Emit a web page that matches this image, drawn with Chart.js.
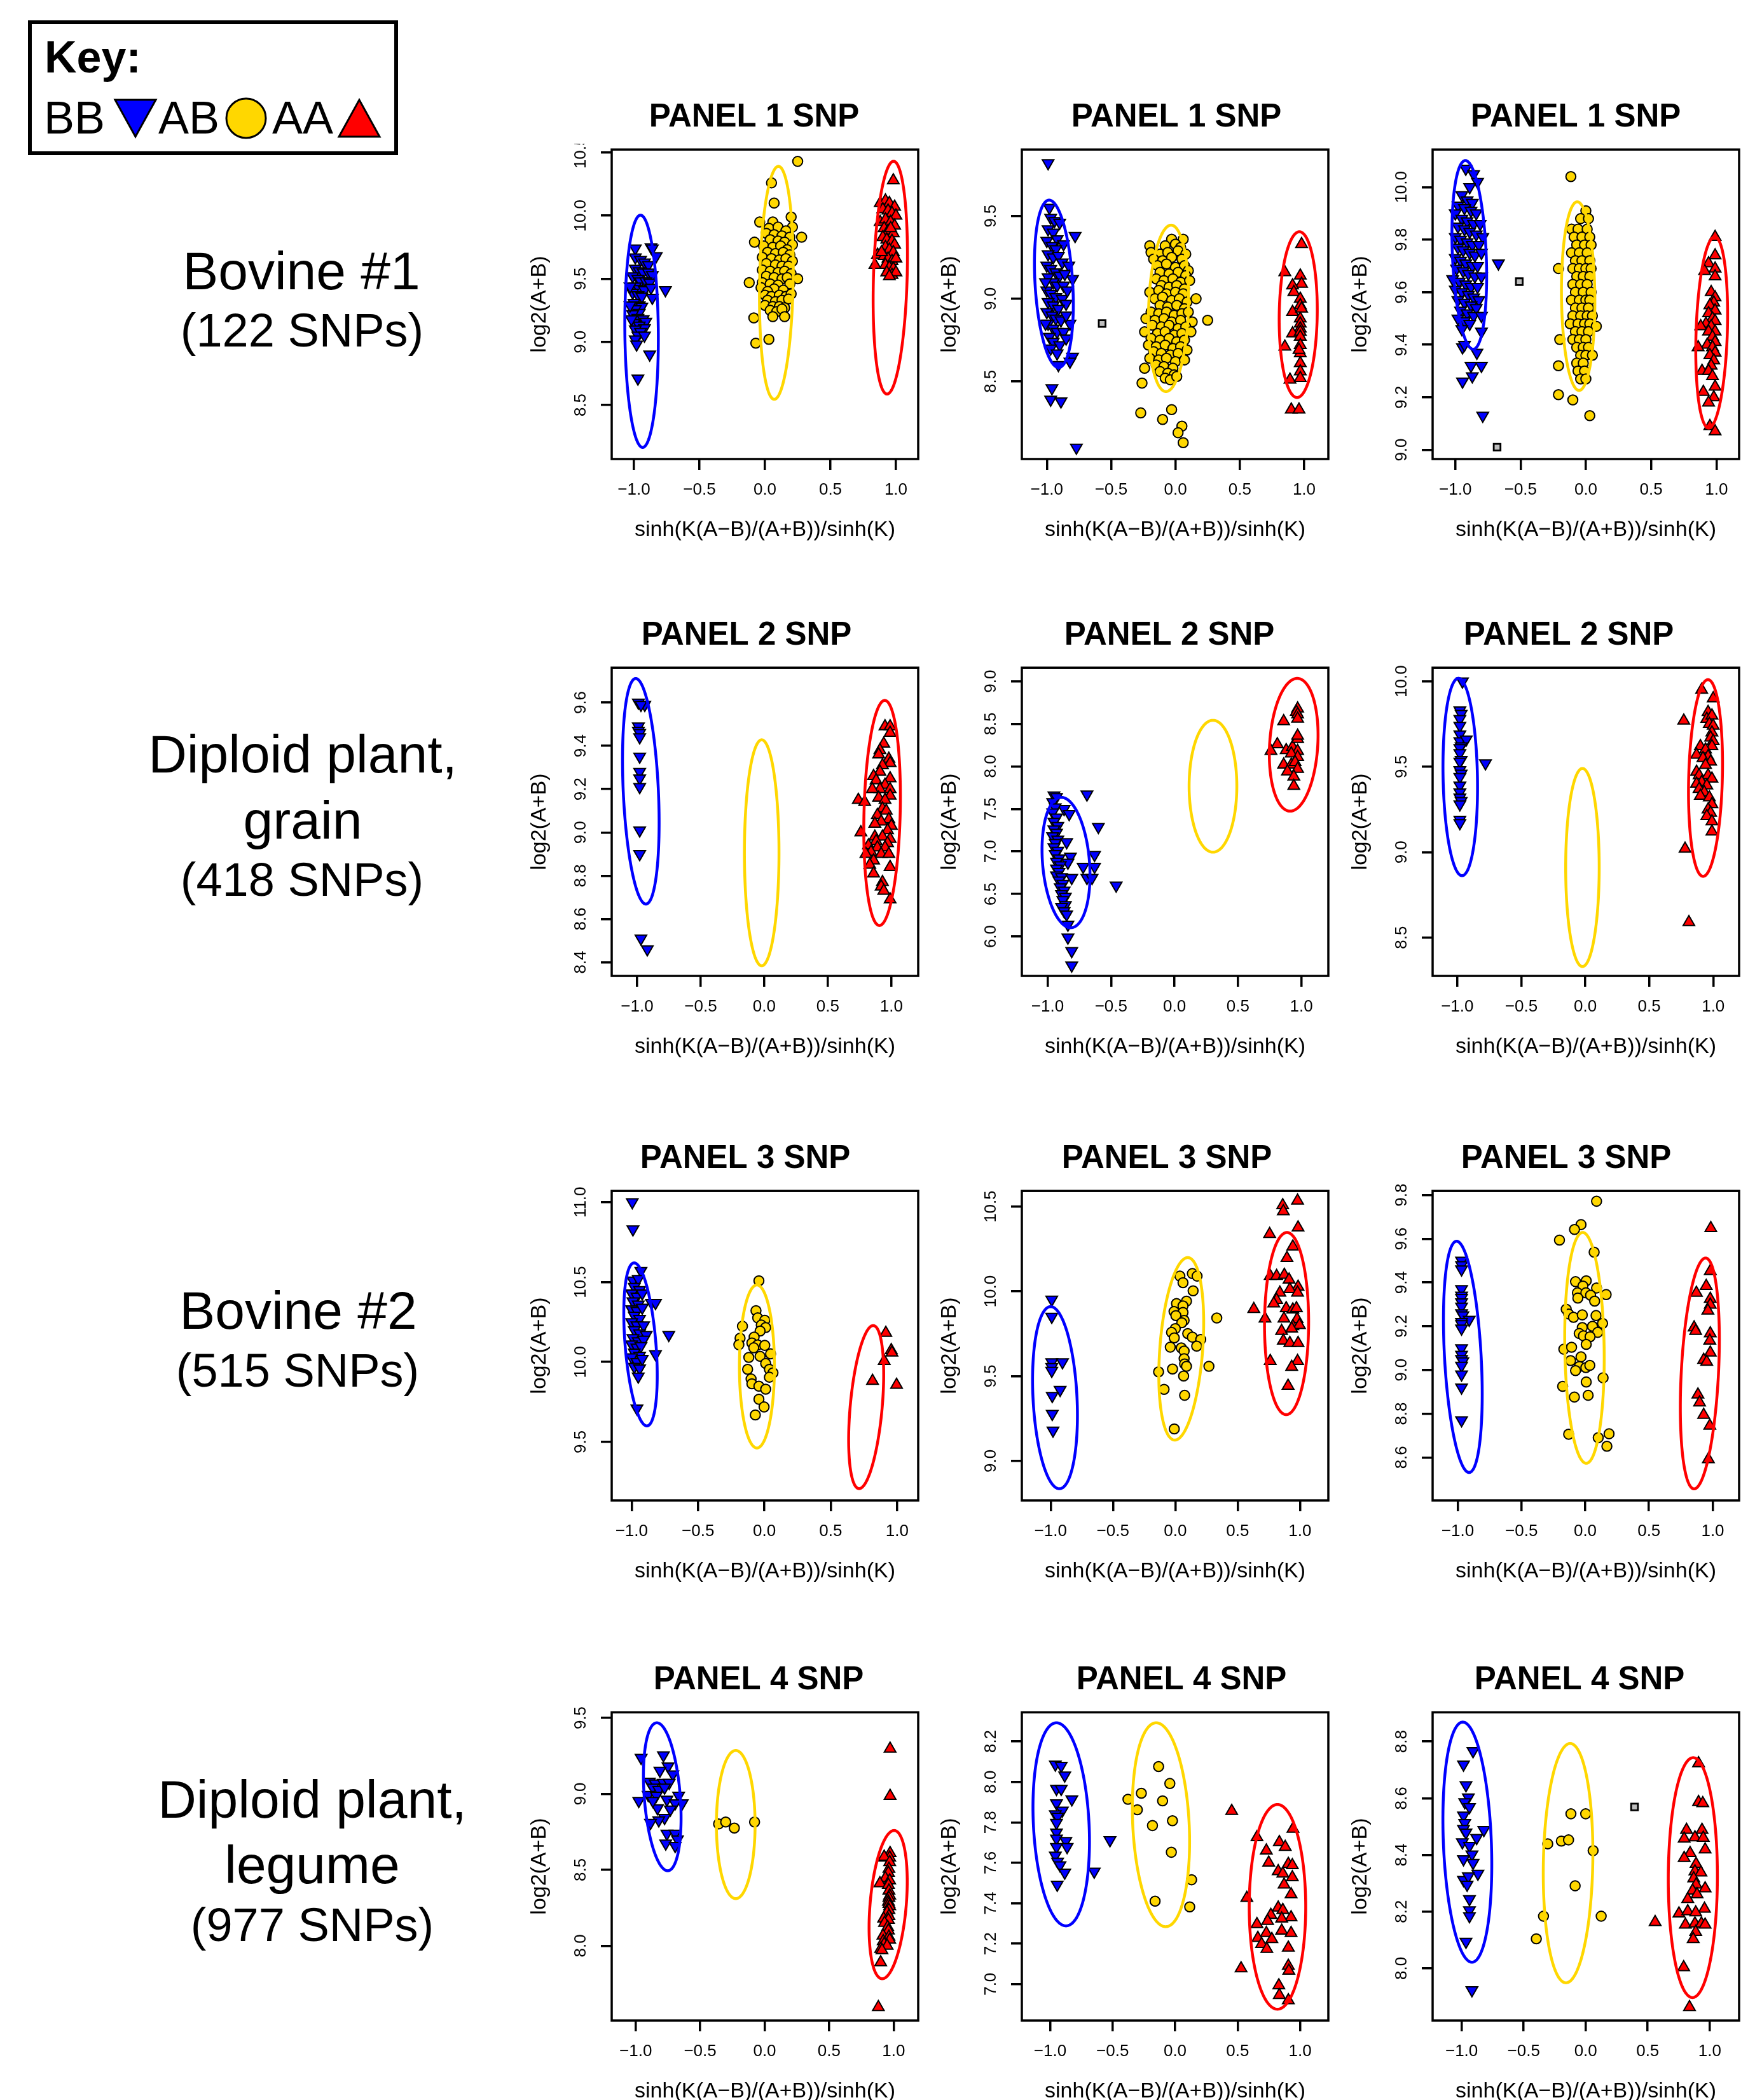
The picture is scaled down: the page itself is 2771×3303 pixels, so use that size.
<!DOCTYPE html>
<html><head><meta charset="utf-8">
<script src="https://cdn.jsdelivr.net/npm/chart.js@4.4.1/dist/chart.umd.min.js"></script>
<style>
html,body{margin:0;padding:0;background:#fff;}
body{width:2771px;height:3303px;position:relative;overflow:hidden;font-family:'Liberation Sans',Arial,Helvetica,sans-serif;color:#000;}
.lbl{position:absolute;transform:translate(-50%,-50%);white-space:nowrap;line-height:1;}
.kt{position:absolute;transform:translateY(-50%);white-space:nowrap;line-height:1;}
canvas{position:absolute;}
#key{position:absolute;left:44px;top:32px;width:582px;height:212px;border:6px solid #000;box-sizing:border-box;}
svg.ks{position:absolute;overflow:visible;}
</style></head><body>

<div id="key"></div>
<div class="kt" style="left:70px;top:90px;font-size:70px;font-weight:bold;">Key:</div>
<div class="kt" style="left:69px;top:185px;font-size:72px;">BB</div>
<svg class="ks" style="left:179px;top:155px;" width="68" height="62"><polygon points="2,2 66,2 34,60" fill="#0000FF" stroke="#000" stroke-width="3"/></svg>
<div class="kt" style="left:249px;top:185px;font-size:72px;">AB</div>
<svg class="ks" style="left:354px;top:153px;" width="66" height="66"><circle cx="33" cy="33" r="31" fill="#FFD700" stroke="#000" stroke-width="3"/></svg>
<div class="kt" style="left:428px;top:185px;font-size:72px;">AA</div>
<svg class="ks" style="left:531px;top:155px;" width="68" height="62"><polygon points="2,60 66,60 34,2" fill="#FF0000" stroke="#000" stroke-width="3"/></svg>

<div class="lbl" style="left:474px;top:426px;font-size:84px;">Bovine #1</div>
<div class="lbl" style="left:475px;top:520px;font-size:74px;">(122 SNPs)</div>
<div class="lbl" style="left:476px;top:1186px;font-size:84px;">Diploid plant,</div>
<div class="lbl" style="left:476px;top:1290px;font-size:84px;">grain</div>
<div class="lbl" style="left:475px;top:1384px;font-size:74px;">(418 SNPs)</div>
<div class="lbl" style="left:469px;top:2061px;font-size:84px;">Bovine #2</div>
<div class="lbl" style="left:468px;top:2156px;font-size:74px;">(515 SNPs)</div>
<div class="lbl" style="left:491px;top:2830px;font-size:84px;">Diploid plant,</div>
<div class="lbl" style="left:491px;top:2933px;font-size:84px;">legume</div>
<div class="lbl" style="left:491px;top:3028px;font-size:74px;">(977 SNPs)</div>

<script>
// ---------------- DATA ----------------
const panelTitles = ['PANEL 1 SNP','PANEL 1 SNP','PANEL 1 SNP','PANEL 2 SNP','PANEL 2 SNP','PANEL 2 SNP','PANEL 3 SNP','PANEL 3 SNP','PANEL 3 SNP','PANEL 4 SNP','PANEL 4 SNP','PANEL 4 SNP'];
const xAxisTitle = 'sinh(K(A\u2212B)/(A+B))/sinh(K)';
const yAxisTitle = 'log2(A+B)';
const xTicks = [-1.0,-0.5,0.0,0.5,1.0];
const yTicks = [
  [8.5,9.0,9.5,10.0,10.5],[8.5,9.0,9.5],[9.0,9.2,9.4,9.6,9.8,10.0],
  [8.4,8.6,8.8,9.0,9.2,9.4,9.6],[6.0,6.5,7.0,7.5,8.0,8.5,9.0],[8.5,9.0,9.5,10.0],
  [9.5,10.0,10.5,11.0],[9.0,9.5,10.0,10.5],[8.6,8.8,9.0,9.2,9.4,9.6,9.8],
  [8.0,8.5,9.0,9.5],[7.0,7.2,7.4,7.6,7.8,8.0,8.2],[8.0,8.2,8.4,8.6,8.8]
];
const xLimits = [[-1.170,1.170],[-1.194,1.188],[-1.174,1.174],[-1.200,1.211],[-1.203,1.212],[-1.193,1.2025],[-1.150,1.159],[-1.231,1.228],[-1.197,1.207],[-1.186,1.191],[-1.226,1.226],[-1.234,1.237]];
const yLimits = [[8.072,10.524],[8.031,9.902],[8.965,10.143],[8.337,9.761],[5.537,9.16],[8.275,10.08],[9.134,11.07],[8.767,10.592],[8.403,9.819],[7.508,9.537],[6.82,8.344],[7.816,8.903]];

// cluster ellipses: [centre x, centre y, half x-extent, half height, top shift in x] for BB, AB, AA
const ellipses = [
  [[-0.942,9.084,0.128,0.92,-0.008],[0.087,9.468,0.129,0.923,0.016],[0.957,9.509,0.131,0.922,0.025]],
  [[-0.945,9.09,0.151,0.506,-0.037],[-0.054,8.942,0.156,0.503,0.02],[0.954,8.904,0.148,0.501,0.009]],
  [[-0.893,9.742,0.133,0.359,-0.03],[-0.059,9.585,0.128,0.359,-0.007],[0.964,9.447,0.122,0.364,0.023]],
  [[-0.971,9.19,0.144,0.521,-0.04],[-0.02,8.906,0.136,0.522,0],[0.927,9.09,0.144,0.52,0.021]],
  [[-0.855,6.87,0.189,0.766,-0.037],[0.303,7.767,0.188,0.775,0],[0.939,8.254,0.192,0.78,0.028]],
  [[-0.977,9.44,0.135,0.578,-0.014],[-0.022,8.91,0.131,0.58,0],[0.94,9.434,0.133,0.576,0.019]],
  [[-0.933,10.11,0.126,0.51,-0.048],[-0.056,9.972,0.132,0.51,0],[0.767,9.718,0.132,0.51,0.053]],
  [[-0.965,9.373,0.18,0.537,-0.035],[0.048,9.661,0.18,0.538,0.052],[0.893,9.81,0.177,0.537,0.003]],
  [[-0.96,9.06,0.152,0.529,-0.049],[-0.006,9.101,0.155,0.528,-0.014],[0.899,8.984,0.153,0.528,0.045]],
  [[-0.794,8.981,0.146,0.487,-0.042],[-0.224,8.798,0.15,0.4875,0],[0.958,8.271,0.148,0.488,0.046]],
  [[-0.911,7.79,0.226,0.502,-0.038],[-0.113,7.788,0.229,0.504,-0.038],[0.819,7.382,0.226,0.506,0]],
  [[-0.954,8.445,0.197,0.4235,-0.037],[-0.142,8.371,0.2,0.422,0.017],[0.864,8.32,0.198,0.423,0.003]]
];

// ---- Panel 1 ----
const p1_BB = [[-0.99,9.74],[-0.87,9.75],[-0.86,9.74],[-0.83,9.68],[-0.99,9.67],[-0.95,9.65],[-0.92,9.63],[-0.89,9.61],[-0.99,9.58],[-0.96,9.56],[-0.93,9.55],[-0.89,9.55],[-0.86,9.53],[-1.01,9.52],[-0.97,9.50],[-0.95,9.48],[-0.91,9.48],[-0.88,9.47],[-0.99,9.44],[-0.96,9.42],[-0.92,9.41],[-0.87,9.43],[-0.76,9.41],[-1.01,9.39],[-0.97,9.37],[-0.94,9.36],[-0.86,9.35],[-1.0,9.31],[-0.96,9.29],[-0.94,9.28],[-0.99,9.26],[-0.96,9.23],[-1.01,9.22],[-0.97,9.19],[-0.93,9.18],[-0.91,9.16],[-1.0,9.15],[-0.96,9.13],[-0.92,9.11],[-0.99,9.10],[-0.95,9.08],[-0.97,9.05],[-0.92,9.05],[-0.99,9.02],[-0.98,8.98],[-0.88,8.90],[-0.97,8.71],[-1.03,9.44],[-1.03,9.29],[-1.02,9.18]];
const p1_AB = [[0.25,10.43],[0.05,10.26],[0.07,10.10],[0.20,9.99],[-0.04,9.95],[0.06,9.95],[0.21,9.91],[0.03,9.90],[0.10,9.91],[0.16,9.88],[-0.08,9.79],[0.28,9.83],[0.01,9.86],[0.07,9.85],[0.13,9.84],[0.19,9.83],[0.04,9.81],[0.10,9.80],[0.15,9.79],[0.21,9.77],[-0.01,9.76],[0.06,9.75],[0.12,9.76],[0.17,9.73],[0.02,9.71],[0.08,9.70],[0.14,9.71],[0.19,9.69],[-0.02,9.67],[0.05,9.66],[0.11,9.65],[0.16,9.66],[0.21,9.64],[0.01,9.62],[0.08,9.61],[0.13,9.60],[0.18,9.60],[-0.02,9.57],[0.04,9.56],[0.10,9.55],[0.15,9.56],[0.20,9.54],[0.01,9.52],[0.07,9.51],[0.13,9.50],[0.25,9.50],[0.17,9.51],[-0.12,9.47],[-0.02,9.47],[0.04,9.46],[0.10,9.45],[0.19,9.46],[-0.03,9.43],[0.07,9.42],[0.14,9.41],[0.02,9.40],[0.00,9.37],[0.05,9.36],[0.11,9.37],[0.16,9.36],[0.20,9.38],[0.02,9.33],[0.08,9.32],[0.13,9.33],[0.18,9.34],[0.00,9.29],[0.06,9.28],[0.11,9.28],[0.15,9.27],[0.04,9.25],[0.09,9.24],[0.13,9.26],[-0.085,9.19],[0.06,9.20],[0.15,9.20],[-0.07,8.99],[0.03,9.02]];
const p1_AA = [[0.98,10.28],[0.88,10.10],[0.92,10.12],[0.95,10.10],[0.99,10.07],[0.90,10.05],[0.94,10.04],[0.97,10.02],[1.0,10.0],[0.88,9.95],[0.92,9.97],[0.96,9.95],[0.99,9.92],[0.91,9.90],[0.94,9.88],[0.98,9.86],[0.90,9.83],[0.93,9.81],[0.97,9.80],[0.99,9.77],[0.92,9.75],[0.95,9.73],[0.98,9.71],[0.86,9.69],[0.91,9.68],[0.94,9.66],[0.97,9.64],[1.0,9.66],[0.84,9.61],[0.92,9.61],[0.95,9.59],[0.98,9.58],[0.93,9.55],[0.97,9.53],[1.0,9.55],[0.95,9.52],[0.89,9.71],[0.96,9.90]];
const p1_NC = [];

// ---- Panel 2 ----
const p2_BB = [[-0.99,9.82],[-0.98,9.55],[-0.97,9.49],[-0.94,9.47],[-0.90,9.46],[-0.78,9.38],[-0.99,9.42],[-0.95,9.40],[-0.92,9.36],[-0.87,9.33],[-1.0,9.35],[-0.96,9.32],[-0.93,9.30],[-0.99,9.27],[-0.95,9.25],[-0.91,9.26],[-0.88,9.22],[-0.83,9.20],[-1.0,9.20],[-0.97,9.18],[-0.93,9.16],[-0.90,9.14],[-0.80,9.12],[-0.99,9.13],[-0.95,9.10],[-0.92,9.08],[-0.87,9.08],[-1.0,9.05],[-0.97,9.03],[-0.93,9.01],[-0.88,9.0],[-0.85,8.97],[-0.99,8.98],[-0.95,8.96],[-0.91,8.94],[-1.0,8.92],[-0.96,8.90],[-0.93,8.88],[-0.89,8.87],[-0.82,8.85],[-0.99,8.85],[-0.95,8.82],[-0.92,8.80],[-0.87,8.80],[-0.98,8.77],[-0.95,8.74],[-0.90,8.72],[-0.85,8.76],[-0.97,8.70],[-0.92,8.67],[-0.80,8.65],[-0.82,8.62],[-0.91,8.60],[-0.96,8.46],[-0.97,8.39],[-0.89,8.38],[-0.77,8.10],[-1.01,9.10],[-1.01,8.85],[-0.86,9.15],[-0.84,9.05],[-0.85,8.90]];
const p2_AB = [[-0.03,9.36],[0.06,9.36],[-0.20,9.32],[-0.08,9.32],[0.00,9.33],[0.04,9.31],[-0.19,9.28],[-0.12,9.27],[-0.06,9.28],[0.02,9.29],[0.08,9.27],[-0.17,9.24],[-0.10,9.23],[-0.03,9.25],[0.05,9.24],[-0.14,9.20],[-0.07,9.21],[0.00,9.19],[0.07,9.20],[0.10,9.17],[-0.12,9.16],[-0.05,9.15],[0.02,9.16],[0.08,9.14],[-0.15,9.12],[-0.09,9.11],[-0.02,9.12],[0.04,9.10],[0.11,9.11],[-0.11,9.08],[-0.05,9.07],[0.01,9.08],[0.07,9.06],[-0.20,9.04],[-0.13,9.05],[-0.07,9.03],[0.00,9.04],[0.06,9.03],[-0.16,9.00],[-0.10,9.01],[-0.03,8.99],[0.03,9.00],[0.09,8.98],[0.16,9.00],[-0.12,8.96],[-0.06,8.95],[0.01,8.96],[0.07,8.94],[-0.19,8.92],[-0.13,8.91],[-0.07,8.92],[-0.01,8.90],[0.05,8.91],[0.10,8.92],[-0.23,8.88],[-0.16,8.87],[-0.09,8.88],[-0.03,8.86],[0.04,8.87],[0.13,8.86],[0.25,8.87],[-0.18,8.84],[-0.11,8.83],[-0.05,8.84],[0.02,8.82],[0.08,8.83],[-0.24,8.80],[-0.14,8.79],[-0.08,8.80],[-0.01,8.78],[0.05,8.79],[0.12,8.80],[-0.19,8.76],[-0.12,8.75],[-0.05,8.76],[0.01,8.74],[0.07,8.75],[-0.21,8.72],[-0.15,8.71],[-0.08,8.72],[-0.02,8.70],[0.04,8.71],[0.09,8.69],[-0.17,8.68],[-0.11,8.67],[-0.04,8.66],[0.02,8.67],[-0.20,8.64],[-0.13,8.63],[-0.07,8.64],[0.00,8.62],[0.07,8.63],[-0.24,8.58],[-0.15,8.60],[-0.09,8.59],[-0.02,8.58],[-0.12,8.56],[-0.06,8.55],[-0.01,8.54],[-0.26,8.49],[-0.08,8.52],[-0.04,8.51],[0.01,8.53],[-0.27,8.31],[-0.10,8.27],[-0.03,8.33],[0.05,8.23],[0.02,8.19],[0.06,8.13]];
const p2_AA = [[0.98,9.33],[0.85,9.16],[0.97,9.14],[0.98,9.09],[0.91,9.08],[0.92,9.04],[0.97,9.0],[0.97,8.96],[0.91,8.92],[0.97,8.88],[0.97,8.85],[0.97,8.82],[0.91,8.79],[0.97,8.80],[0.97,8.77],[0.85,8.71],[0.97,8.72],[0.97,8.67],[0.97,8.61],[0.97,8.56],[0.89,8.51],[0.97,8.52],[0.90,8.33],[0.96,8.33],[0.96,8.69],[0.98,8.94]];
const p2_NC = [[-0.57,8.85]];

// ---- Panel 3 ----
const p3_BB = [[-0.92,10.07],[-0.86,10.05],[-0.83,10.02],[-0.89,10.0],[-0.95,9.97],[-0.91,9.95],[-0.87,9.94],[-0.98,9.93],[-0.93,9.92],[-0.88,9.91],[-0.84,9.90],[-1.0,9.90],[-0.95,9.88],[-0.91,9.87],[-0.86,9.86],[-0.81,9.86],[-0.98,9.85],[-0.93,9.84],[-0.89,9.83],[-0.84,9.82],[-0.79,9.81],[-1.0,9.81],[-0.96,9.80],[-0.91,9.79],[-0.87,9.78],[-0.82,9.78],[-0.98,9.77],[-0.94,9.76],[-0.89,9.75],[-0.85,9.74],[-0.80,9.75],[-1.0,9.73],[-0.96,9.72],[-0.92,9.71],[-0.87,9.70],[-0.83,9.70],[-0.67,9.71],[-0.99,9.69],[-0.94,9.68],[-0.90,9.67],[-0.85,9.66],[-0.80,9.66],[-1.02,9.65],[-0.97,9.64],[-0.92,9.63],[-0.88,9.62],[-0.83,9.62],[-1.0,9.61],[-0.95,9.60],[-0.90,9.59],[-0.86,9.58],[-0.82,9.57],[-0.98,9.57],[-0.93,9.56],[-0.88,9.55],[-0.84,9.54],[-0.96,9.53],[-0.91,9.52],[-0.86,9.51],[-0.98,9.50],[-0.93,9.49],[-0.89,9.48],[-0.80,9.51],[-0.95,9.46],[-0.80,9.45],[-0.945,9.39],[-0.835,9.37],[-0.93,9.40],[-0.945,9.26],[-0.87,9.28],[-0.80,9.32],[-0.88,9.32],[-0.79,9.13]];
const p3_AB = [[-0.115,10.04],[0.0,9.91],[-0.04,9.88],[0.02,9.88],[-0.11,9.84],[-0.06,9.84],[0.01,9.84],[-0.09,9.81],[-0.03,9.81],[0.03,9.81],[-0.07,9.78],[-0.01,9.78],[0.04,9.78],[-0.11,9.75],[-0.05,9.75],[0.01,9.75],[-0.08,9.72],[-0.03,9.72],[0.03,9.72],[-0.21,9.69],[-0.10,9.69],[-0.05,9.69],[0.0,9.69],[0.04,9.69],[-0.07,9.66],[-0.02,9.66],[0.03,9.66],[-0.10,9.63],[-0.04,9.63],[0.01,9.63],[-0.08,9.60],[-0.02,9.60],[0.04,9.60],[-0.11,9.57],[-0.05,9.57],[0.0,9.57],[0.03,9.57],[-0.08,9.54],[-0.03,9.54],[0.02,9.54],[-0.10,9.51],[-0.04,9.51],[0.01,9.51],[0.05,9.51],[-0.12,9.48],[-0.06,9.48],[-0.01,9.48],[0.03,9.48],[0.08,9.47],[-0.08,9.45],[-0.03,9.45],[0.02,9.45],[-0.20,9.42],[-0.10,9.42],[-0.05,9.42],[0.0,9.42],[-0.07,9.39],[-0.02,9.39],[0.02,9.39],[-0.04,9.36],[0.0,9.36],[0.05,9.36],[-0.21,9.32],[-0.07,9.33],[-0.02,9.33],[-0.06,9.30],[-0.01,9.30],[-0.04,9.27],[0.0,9.27],[-0.21,9.21],[-0.10,9.19],[0.03,9.13]];
const p3_AA = [[0.99,9.81],[0.99,9.74],[0.94,9.71],[0.99,9.69],[0.91,9.68],[0.99,9.66],[0.96,9.60],[0.99,9.58],[0.98,9.56],[0.95,9.55],[0.99,9.53],[0.94,9.52],[0.97,9.50],[0.99,9.49],[0.92,9.48],[0.96,9.47],[0.88,9.47],[0.99,9.45],[0.94,9.45],[0.97,9.43],[0.99,9.41],[0.93,9.40],[0.86,9.39],[0.97,9.39],[0.99,9.37],[0.95,9.36],[0.98,9.34],[0.96,9.32],[0.89,9.30],[0.94,9.30],[0.97,9.28],[0.90,9.22],[0.99,9.24],[0.98,9.20],[0.94,9.18],[0.95,9.09],[0.99,9.07]];
const p3_NC = [[-0.51,9.64],[-0.68,9.01]];

// ---- Panel 4 ----
const p4_BB = [[-0.99,9.60],[-0.94,9.59],[-0.97,9.59],[-0.99,9.49],[-0.99,9.47],[-0.98,9.46],[-0.98,9.44],[-0.98,9.35],[-0.98,9.28],[-0.98,9.25],[-0.98,9.21],[-0.98,9.01],[-0.98,8.90],[-0.97,8.51],[-0.92,8.46]];
const p4_AB = [];
const p4_AA = [[0.95,9.49],[0.99,9.49],[0.99,9.46],[0.94,9.41],[0.91,9.38],[0.90,9.36],[0.98,9.34],[0.99,9.32],[0.93,9.31],[0.91,9.28],[0.86,9.26],[0.99,9.25],[0.88,9.24],[0.95,9.22],[0.91,9.20],[0.99,9.20],[0.85,9.20],[0.99,9.17],[0.90,9.16],[0.95,9.15],[0.74,9.15],[0.79,9.14],[0.93,9.11],[0.96,9.10],[0.89,9.08],[0.98,9.06],[0.92,9.05],[0.87,9.04],[1.0,9.03],[0.97,9.01],[0.76,9.0],[0.87,8.98],[0.93,8.98],[0.88,8.96],[0.99,8.97],[0.97,8.95],[0.82,8.94],[0.89,8.93],[0.95,8.93],[0.84,8.91],[0.92,8.90],[0.98,8.90],[0.80,8.90],[0.86,8.87],[0.83,8.85],[0.99,8.84],[0.86,8.81],[0.93,8.77],[0.92,8.75],[0.94,8.73],[0.99,8.69]];
const p4_NC = [];

// ---- Panel 5 ----
const p5_BB = [[-0.95,7.66],[-0.93,7.64],[-0.87,7.50],[-0.83,7.44],[-0.96,7.58],[-0.94,7.52],[-0.96,7.46],[-0.93,7.40],[-0.95,7.35],[-0.92,7.30],[-0.95,7.26],[-0.93,7.22],[-0.96,7.18],[-0.92,7.14],[-0.94,7.10],[-0.85,7.11],[-0.95,7.05],[-0.92,7.01],[-0.94,6.97],[-0.82,6.94],[-0.91,6.92],[-0.93,6.88],[-0.84,6.87],[-0.90,6.84],[-0.93,6.80],[-0.91,6.76],[-0.93,6.72],[-0.89,6.70],[-0.81,6.69],[-0.91,6.66],[-0.88,6.62],[-0.90,6.58],[-0.87,6.54],[-0.89,6.50],[-0.86,6.47],[-0.88,6.43],[-0.86,6.37],[-0.89,6.35],[-0.87,6.30],[-0.85,6.26],[-0.84,6.14],[-0.69,7.67],[-0.60,7.29],[-0.63,6.96],[-0.63,6.82],[-0.72,6.82],[-0.69,6.69],[-0.65,6.69],[-0.46,6.60],[-0.84,5.99],[-0.81,5.83],[-0.81,5.66]];
const p5_AB = [];
const p5_AA = [[0.86,8.53],[0.97,8.68],[0.96,8.64],[0.97,8.61],[0.97,8.56],[0.81,8.26],[0.76,8.18],[0.88,8.19],[0.93,8.23],[0.97,8.32],[0.97,8.36],[0.97,8.18],[0.92,8.15],[0.97,8.11],[0.86,8.02],[0.92,8.02],[0.95,8.05],[0.97,7.97],[0.89,7.94],[0.94,7.88],[0.94,7.77]];
const p5_NC = [];

// ---- Panel 6 ----
const p6_BB = [[-0.96,10.0],[-0.98,9.83],[-0.97,9.81],[-0.98,9.78],[-0.98,9.74],[-0.98,9.69],[-0.98,9.65],[-0.93,9.66],[-0.97,9.62],[-0.98,9.61],[-0.98,9.58],[-0.97,9.54],[-0.98,9.53],[-0.78,9.52],[-0.98,9.48],[-0.97,9.46],[-0.98,9.44],[-0.98,9.39],[-0.98,9.35],[-0.98,9.32],[-0.97,9.30],[-0.98,9.28],[-0.98,9.19],[-0.98,9.17]];
const p6_AB = [];
const p6_AA = [[0.91,9.95],[1.0,9.90],[0.77,9.77],[0.96,9.82],[0.95,9.78],[0.99,9.80],[0.97,9.75],[1.0,9.74],[0.99,9.70],[0.98,9.67],[1.0,9.65],[0.99,9.62],[0.90,9.62],[0.94,9.60],[0.87,9.57],[0.96,9.56],[0.92,9.55],[0.98,9.53],[0.94,9.51],[0.87,9.47],[0.89,9.45],[0.96,9.45],[0.99,9.43],[0.91,9.41],[0.87,9.40],[0.95,9.39],[0.89,9.37],[0.93,9.35],[0.90,9.33],[0.97,9.32],[0.99,9.28],[0.96,9.25],[0.98,9.23],[0.95,9.21],[0.99,9.18],[0.99,9.12],[0.78,9.02],[0.81,8.59]];
const p6_NC = [];

// ---- Panel 7 ----
const p7_BB = [[-0.995,11.0],[-0.99,10.83],[-0.93,10.57],[-0.99,10.51],[-0.95,10.52],[-0.98,10.47],[-0.94,10.45],[-1.0,10.43],[-0.96,10.41],[-0.92,10.43],[-0.99,10.38],[-0.95,10.36],[-0.85,10.37],[-0.82,10.37],[-1.0,10.33],[-0.96,10.32],[-0.92,10.34],[-0.98,10.29],[-0.94,10.27],[-1.0,10.25],[-0.96,10.23],[-0.91,10.23],[-0.98,10.20],[-0.94,10.18],[-0.89,10.17],[-0.72,10.17],[-0.99,10.15],[-0.95,10.13],[-0.91,10.14],[-1.0,10.11],[-0.96,10.09],[-0.93,10.10],[-0.98,10.06],[-0.94,10.04],[-0.82,10.05],[-1.0,10.03],[-0.96,10.0],[-0.92,10.02],[-0.98,9.97],[-0.94,9.96],[-0.95,9.91],[-0.96,9.71]];
const p7_AB = [[-0.041,10.508],[-0.063,10.321],[-0.05,10.276],[0.003,10.261],[-0.165,10.224],[-0.023,10.231],[0.01,10.216],[-0.032,10.194],[-0.183,10.149],[-0.192,10.108],[-0.077,10.156],[-0.094,10.119],[-0.05,10.107],[0.003,10.104],[-0.08,10.089],[0.047,10.051],[-0.117,10.029],[-0.032,10.036],[0.01,9.991],[-0.126,9.954],[0.038,9.954],[0.065,9.932],[-0.1,9.894],[0.038,9.905],[-0.094,9.864],[-0.041,9.849],[0.01,9.83],[-0.041,9.767],[-0.002,9.719],[-0.068,9.669]];
const p7_AA = [[0.915,10.182],[0.956,10.074],[0.961,10.059],[0.903,10.006],[0.815,9.882],[0.996,9.857]];
const p7_NC = [];

// ---- Panel 8 ----
const p8_BB = [[-0.991,9.952],[-0.991,9.85],[-0.991,9.582],[-0.905,9.582],[-0.991,9.554],[-0.991,9.532],[-0.924,9.419],[-0.987,9.384],[-0.987,9.278],[-0.981,9.179]];
const p8_AB = [[0.037,10.09],[0.137,10.105],[0.175,10.09],[0.062,10.051],[0.143,10.003],[0.09,9.942],[0.01,9.928],[0.062,9.914],[-0.01,9.881],[0.062,9.876],[0.005,9.857],[0.333,9.843],[0.071,9.829],[0.052,9.815],[0.0,9.78],[-0.03,9.758],[-0.008,9.726],[0.1,9.751],[0.137,9.73],[0.204,9.716],[-0.04,9.671],[0.048,9.667],[0.172,9.677],[0.071,9.648],[0.071,9.603],[0.075,9.572],[0.09,9.558],[0.27,9.558],[-0.134,9.525],[-0.022,9.542],[0.067,9.501],[-0.09,9.422],[0.075,9.387],[-0.008,9.189]];
const p8_AA = [[0.981,10.535],[0.862,10.507],[0.867,10.472],[0.985,10.376],[0.757,10.338],[0.943,10.264],[0.896,10.196],[0.762,10.09],[0.813,10.09],[0.875,10.097],[0.913,10.069],[0.985,10.027],[0.919,10.013],[0.981,9.992],[0.839,9.992],[0.813,9.949],[0.79,9.928],[0.63,9.895],[0.89,9.9],[0.943,9.893],[0.972,9.9],[0.72,9.839],[0.872,9.839],[0.977,9.836],[0.943,9.794],[0.996,9.801],[0.853,9.766],[0.934,9.78],[0.867,9.709],[0.919,9.695],[0.985,9.695],[0.762,9.589],[0.981,9.589],[0.934,9.554],[0.905,9.443]];
const p8_NC = [];

// ---- Panel 9 ----
const p9_BB = [[-0.97,9.50],[-0.97,9.48],[-0.97,9.46],[-0.97,9.37],[-0.97,9.34],[-0.97,9.33],[-0.97,9.31],[-0.97,9.29],[-0.97,9.26],[-0.96,9.25],[-0.91,9.23],[-0.97,9.22],[-0.97,9.21],[-0.97,9.19],[-0.97,9.10],[-0.97,9.07],[-0.97,9.05],[-0.96,9.04],[-0.97,9.02],[-0.97,8.98],[-0.97,8.92],[-0.97,8.77]];
const p9_AB = [[0.089,9.772],[-0.033,9.665],[-0.084,9.643],[-0.202,9.594],[0.07,9.539],[-0.076,9.404],[0.008,9.408],[-0.018,9.384],[0.089,9.375],[-0.061,9.353],[0.005,9.353],[0.042,9.342],[0.164,9.345],[-0.058,9.329],[0.074,9.315],[-0.149,9.278],[-0.13,9.256],[-0.092,9.241],[-0.023,9.252],[0.085,9.249],[0.136,9.213],[-0.023,9.194],[0.057,9.2],[0.098,9.172],[-0.047,9.167],[-0.014,9.156],[0.038,9.152],[0.008,9.117],[-0.168,9.095],[-0.107,9.104],[-0.033,9.06],[-0.115,9.043],[-0.046,9.016],[-0.076,8.997],[0.005,9.011],[0.036,9.021],[0.14,8.964],[0.008,8.945],[-0.177,8.925],[-0.085,8.876],[0.023,8.884],[-0.13,8.706],[0.102,8.69],[0.187,8.708],[0.17,8.651]];
const p9_AA = [[0.985,9.649],[0.981,9.452],[0.872,9.353],[0.949,9.384],[0.981,9.325],[0.981,9.298],[0.962,9.271],[0.854,9.194],[0.866,9.178],[0.981,9.167],[0.977,9.134],[0.981,9.079],[0.929,9.046],[0.953,9.037],[0.884,8.887],[0.897,8.851],[0.929,8.794],[0.977,8.745],[0.966,8.591]];
const p9_NC = [];

// ---- Panel 10 ----
const p10_BB = [[-0.958,9.238],[-0.785,9.254],[-0.749,9.181],[-0.812,9.153],[-0.712,9.129],[-0.894,9.081],[-0.849,9.069],[-0.785,9.073],[-0.74,9.073],[-0.867,9.042],[-0.821,9.026],[-0.776,9.042],[-0.976,8.954],[-0.903,8.994],[-0.84,8.989],[-0.758,8.962],[-0.667,8.989],[-0.639,8.938],[-0.694,8.938],[-0.831,8.906],[-0.731,8.898],[-0.776,8.842],[-0.821,8.826],[-0.885,8.81],[-0.758,8.738],[-0.694,8.738],[-0.676,8.701],[-0.767,8.674],[-0.694,8.658],[-0.867,8.954]];
const p10_AB = [[-0.357,8.802],[-0.302,8.815],[-0.235,8.775],[-0.078,8.815]];
const p10_AA = [[0.973,9.297],[0.973,8.986],[0.973,8.61],[0.97,8.58],[0.93,8.58],[0.927,8.586],[0.97,8.55],[0.964,8.506],[0.96,8.48],[0.936,8.446],[0.97,8.43],[0.894,8.411],[0.96,8.40],[0.964,8.363],[0.97,8.33],[0.964,8.315],[0.96,8.29],[0.964,8.275],[0.97,8.26],[0.964,8.235],[0.95,8.22],[0.964,8.195],[0.923,8.179],[0.96,8.17],[0.93,8.15],[0.954,8.123],[0.96,8.10],[0.918,8.067],[0.964,8.059],[0.97,8.04],[0.92,8.03],[0.927,8.011],[0.95,8.0],[0.9,7.979],[0.91,7.97],[0.9,7.891],[0.882,7.596]];
const p10_NC = [];

// ---- Panel 11 ----
const p11_BB = [[-0.958,8.086],[-0.911,8.08],[-0.883,8.032],[-0.949,7.966],[-0.911,7.966],[-0.826,7.914],[-0.949,7.894],[-0.902,7.858],[-0.958,7.84],[-0.94,7.828],[-0.949,7.798],[-0.949,7.75],[-0.949,7.72],[-0.874,7.708],[-0.864,7.678],[-0.949,7.678],[-0.958,7.636],[-0.94,7.606],[-0.921,7.588],[-0.883,7.552],[-0.943,7.492],[-0.521,7.712],[-0.647,7.556]];
const p11_AB = [[-0.132,8.076],[-0.042,7.992],[-0.27,7.944],[-0.377,7.914],[-0.1,7.906],[-0.302,7.862],[-0.021,7.808],[-0.181,7.784],[-0.03,7.652],[0.132,7.516],[-0.16,7.41],[0.117,7.382]];
const p11_AA = [[0.453,7.856],[0.943,7.768],[0.655,7.726],[0.834,7.702],[0.881,7.678],[0.73,7.66],[0.749,7.6],[0.906,7.594],[0.938,7.588],[0.825,7.558],[0.862,7.546],[0.938,7.528],[0.872,7.492],[0.928,7.444],[0.574,7.426],[0.825,7.378],[0.862,7.366],[0.766,7.342],[0.928,7.33],[0.853,7.324],[0.74,7.312],[0.655,7.296],[0.853,7.264],[0.928,7.252],[0.73,7.252],[0.662,7.228],[0.774,7.222],[0.692,7.198],[0.734,7.174],[0.906,7.18],[0.528,7.078],[0.906,7.09],[0.91,7.066],[0.83,6.994],[0.834,6.946],[0.906,6.92]];
const p11_NC = [];

// ---- Panel 12 ----
const p12_BB = [[-0.908,8.766],[-0.985,8.719],[-0.965,8.646],[-0.946,8.603],[-0.975,8.586],[-0.937,8.569],[-0.985,8.539],[-0.975,8.513],[-0.821,8.488],[-0.985,8.492],[-0.965,8.479],[-0.879,8.46],[-0.994,8.445],[-0.937,8.432],[-0.917,8.402],[-0.985,8.385],[-0.908,8.372],[-0.869,8.334],[-0.985,8.312],[-0.946,8.325],[-0.956,8.295],[-0.937,8.244],[-0.937,8.205],[-0.937,8.184],[-0.965,8.094],[-0.917,7.923]];
const p12_AB = [[-0.119,8.545],[0.0,8.545],[-0.306,8.439],[-0.196,8.449],[-0.138,8.453],[0.06,8.415],[-0.085,8.291],[-0.34,8.184],[0.125,8.184],[-0.398,8.104]];
const p12_AA = [[0.91,8.723],[0.91,8.586],[0.944,8.582],[0.813,8.488],[0.938,8.488],[0.881,8.462],[0.948,8.46],[0.794,8.457],[0.963,8.419],[0.842,8.406],[0.794,8.389],[0.89,8.368],[0.881,8.342],[0.929,8.338],[0.871,8.317],[0.89,8.295],[0.963,8.282],[0.862,8.274],[0.898,8.261],[0.823,8.244],[0.958,8.21],[0.752,8.193],[0.823,8.201],[0.887,8.197],[0.56,8.163],[0.804,8.154],[0.881,8.158],[0.933,8.158],[0.963,8.154],[0.887,8.128],[0.867,8.103],[0.79,8.004],[0.837,7.863]];
const p12_NC = [[0.394,8.569]];

const clusterBB = [p1_BB,p2_BB,p3_BB,p4_BB,p5_BB,p6_BB,p7_BB,p8_BB,p9_BB,p10_BB,p11_BB,p12_BB];
const clusterAB = [p1_AB,p2_AB,p3_AB,p4_AB,p5_AB,p6_AB,p7_AB,p8_AB,p9_AB,p10_AB,p11_AB,p12_AB];
const clusterAA = [p1_AA,p2_AA,p3_AA,p4_AA,p5_AA,p6_AA,p7_AA,p8_AA,p9_AA,p10_AA,p11_AA,p12_AA];
const clusterNC = [p1_NC,p2_NC,p3_NC,p4_NC,p5_NC,p6_NC,p7_NC,p8_NC,p9_NC,p10_NC,p11_NC,p12_NC];

// ---------------- LAYOUT / STYLE ----------------
const FAM = "'Liberation Sans', Arial, Helvetica, sans-serif";
const COLS = [[962,1444],[1607,2089],[2253,2735]];
const ROWS = [[235,722],[1050,1535],[1873,2360],[2693,3178]];
const TITLE_DX = [-17,2,-16,-29,-9,-27,-31,-13,-31,-10,10,-10];
const LABEL_CLIP = [9,null,null,null,null,null,null,null,null,null,null,null];
const COL_BB = '#0000FF', COL_AB = '#FFD700', COL_AA = '#FF0000', COL_NC = '#BEBEBE';
const ELL_COLORS = [COL_BB, COL_AB, COL_AA];

const fmt = v => (v < 0 ? '\u2212' : '') + Math.abs(v).toFixed(1);
const toXY = arr => arr.map(p => ({x: p[0], y: p[1]}));

for (let i = 0; i < 12; i++) {
  const col = i % 3, row = Math.floor(i / 3);
  const [bl, br] = COLS[col], [bt, bb] = ROWS[row];
  const bw = br - bl, bh = bb - bt;
  const L = 150, B = 140, T = 81.2;
  const R = L + 2 * TITLE_DX[i];
  const cv = document.createElement('canvas');
  cv.width = Math.round(L + bw + R);
  cv.height = Math.round(T + bh + B);
  cv.style.left = (bl - L) + 'px';
  cv.style.top = (bt - T) + 'px';
  document.body.appendChild(cv);

  const ptBase = {showLine: false, pointBorderColor: '#000'};
  const datasets = [
    Object.assign({label: 'AA', data: toXY(clusterAA[i]), pointStyle: 'triangle', pointRotation: 0, pointRadius: 10.5, pointHoverRadius: 10.5, pointBackgroundColor: COL_AA, pointBorderWidth: 2}, ptBase),
    Object.assign({label: 'AB', data: toXY(clusterAB[i]), pointStyle: 'circle', pointRadius: 7.8, pointHoverRadius: 7.8, pointBackgroundColor: COL_AB, pointBorderWidth: 2}, ptBase),
    Object.assign({label: 'BB', data: toXY(clusterBB[i]), pointStyle: 'triangle', pointRotation: 180, pointRadius: 10.5, pointHoverRadius: 10.5, pointBackgroundColor: COL_BB, pointBorderWidth: 2}, ptBase),
    Object.assign({label: 'NC', data: toXY(clusterNC[i]), pointStyle: 'rect', pointRadius: 7.5, pointHoverRadius: 7.5, pointBackgroundColor: COL_NC, pointBorderWidth: 2.8}, ptBase)
  ];

  const ellPlugin = {
    id: 'ellipses' + i,
    afterDatasetsDraw(chart) {
      const {ctx, chartArea: ca, scales: {x, y}} = chart;
      ctx.save();
      ctx.beginPath(); ctx.rect(ca.left, ca.top, ca.right - ca.left, ca.bottom - ca.top); ctx.clip();
      ctx.lineWidth = 4.5;
      ellipses[i].forEach((e, k) => {
        const [cx, cy, W, hy, dx] = e;
        const hx = Math.sqrt(Math.max(W * W - dx * dx, 1e-6));
        ctx.strokeStyle = ELL_COLORS[k];
        ctx.beginPath();
        for (let s = 0; s <= 240; s++) {
          const t = s / 240 * 2 * Math.PI;
          const px = x.getPixelForValue(cx + hx * Math.cos(t) + dx * Math.sin(t));
          const py = y.getPixelForValue(cy + hy * Math.sin(t));
          if (s === 0) ctx.moveTo(px, py); else ctx.lineTo(px, py);
        }
        ctx.closePath();
        ctx.stroke();
      });
      ctx.restore();
    }
  };
  const framePlugin = {
    id: 'frame' + i,
    afterDraw(chart) {
      const {ctx, chartArea: ca, scales: {y}} = chart;
      ctx.save();
      ctx.lineWidth = 3.5; ctx.strokeStyle = '#000';
      ctx.strokeRect(ca.left, ca.top, ca.right - ca.left, ca.bottom - ca.top);
      ctx.restore();
      // rotated y tick labels (R style)
      ctx.save();
      if (LABEL_CLIP[i] != null) { ctx.beginPath(); ctx.rect(0, ca.top - LABEL_CLIP[i], chart.width, chart.height); ctx.clip(); }
      ctx.font = '26px ' + FAM; ctx.fillStyle = '#000';
      ctx.textAlign = 'center'; ctx.textBaseline = 'middle';
      yTicks[i].forEach(v => {
        const py = y.getPixelForValue(v);
        ctx.save(); ctx.translate(ca.left - 48, py); ctx.rotate(-Math.PI / 2); ctx.fillText(fmt(v), 0, 0); ctx.restore();
      });
      ctx.restore();
    }
  };

  const gridOpts = {display: true, drawOnChartArea: false, drawTicks: true, tickLength: 17, tickWidth: 3.5, tickColor: '#000', color: '#000', lineWidth: 3.5};
  const chart = new Chart(cv, {
    type: 'scatter',
    data: {datasets},
    options: {
      responsive: false, maintainAspectRatio: false, animation: false, events: [],
      layout: {padding: 0},
      plugins: {
        legend: {display: false}, tooltip: {enabled: false},
        title: {display: true, text: panelTitles[i], color: '#000', font: {size: 51, weight: 'bold', family: FAM, lineHeight: 1.2}, padding: {top: 0, bottom: 20}}
      },
      scales: {
        x: {
          type: 'linear', position: 'bottom', min: xLimits[i][0], max: xLimits[i][1],
          afterBuildTicks: s => { s.ticks = xTicks.map(v => ({value: v})); },
          afterFit: s => { s.height = B; },
          ticks: {callback: v => fmt(v), color: '#000', font: {size: 26, family: FAM}, padding: 16, maxRotation: 0, minRotation: 0, autoSkip: false},
          grid: gridOpts, border: {display: false},
          title: {display: true, text: xAxisTitle, color: '#000', font: {size: 34, family: FAM, lineHeight: 1.2}, padding: {top: 0, bottom: 8}}
        },
        y: {
          type: 'linear', position: 'left', min: yLimits[i][0], max: yLimits[i][1],
          afterBuildTicks: s => { s.ticks = yTicks[i].map(v => ({value: v})); },
          afterFit: s => { s.width = L; },
          ticks: {display: false},
          grid: gridOpts, border: {display: false},
          title: {display: true, text: yAxisTitle, color: '#000', font: {size: 34, family: FAM, lineHeight: 1.2}, padding: {top: 16, bottom: 0}}
        },
        y2: {
          type: 'linear', position: 'right', display: true,
          afterFit: s => { s.width = R; },
          ticks: {display: false}, grid: {display: false}, border: {display: false}, title: {display: false}
        }
      }
    },
    plugins: [ellPlugin, framePlugin]
  });
  const ca = chart.chartArea;
  cv.style.left = (bl - ca.left) + 'px';
  cv.style.top = (bt - ca.top) + 'px';
}
</script>
</body></html>
